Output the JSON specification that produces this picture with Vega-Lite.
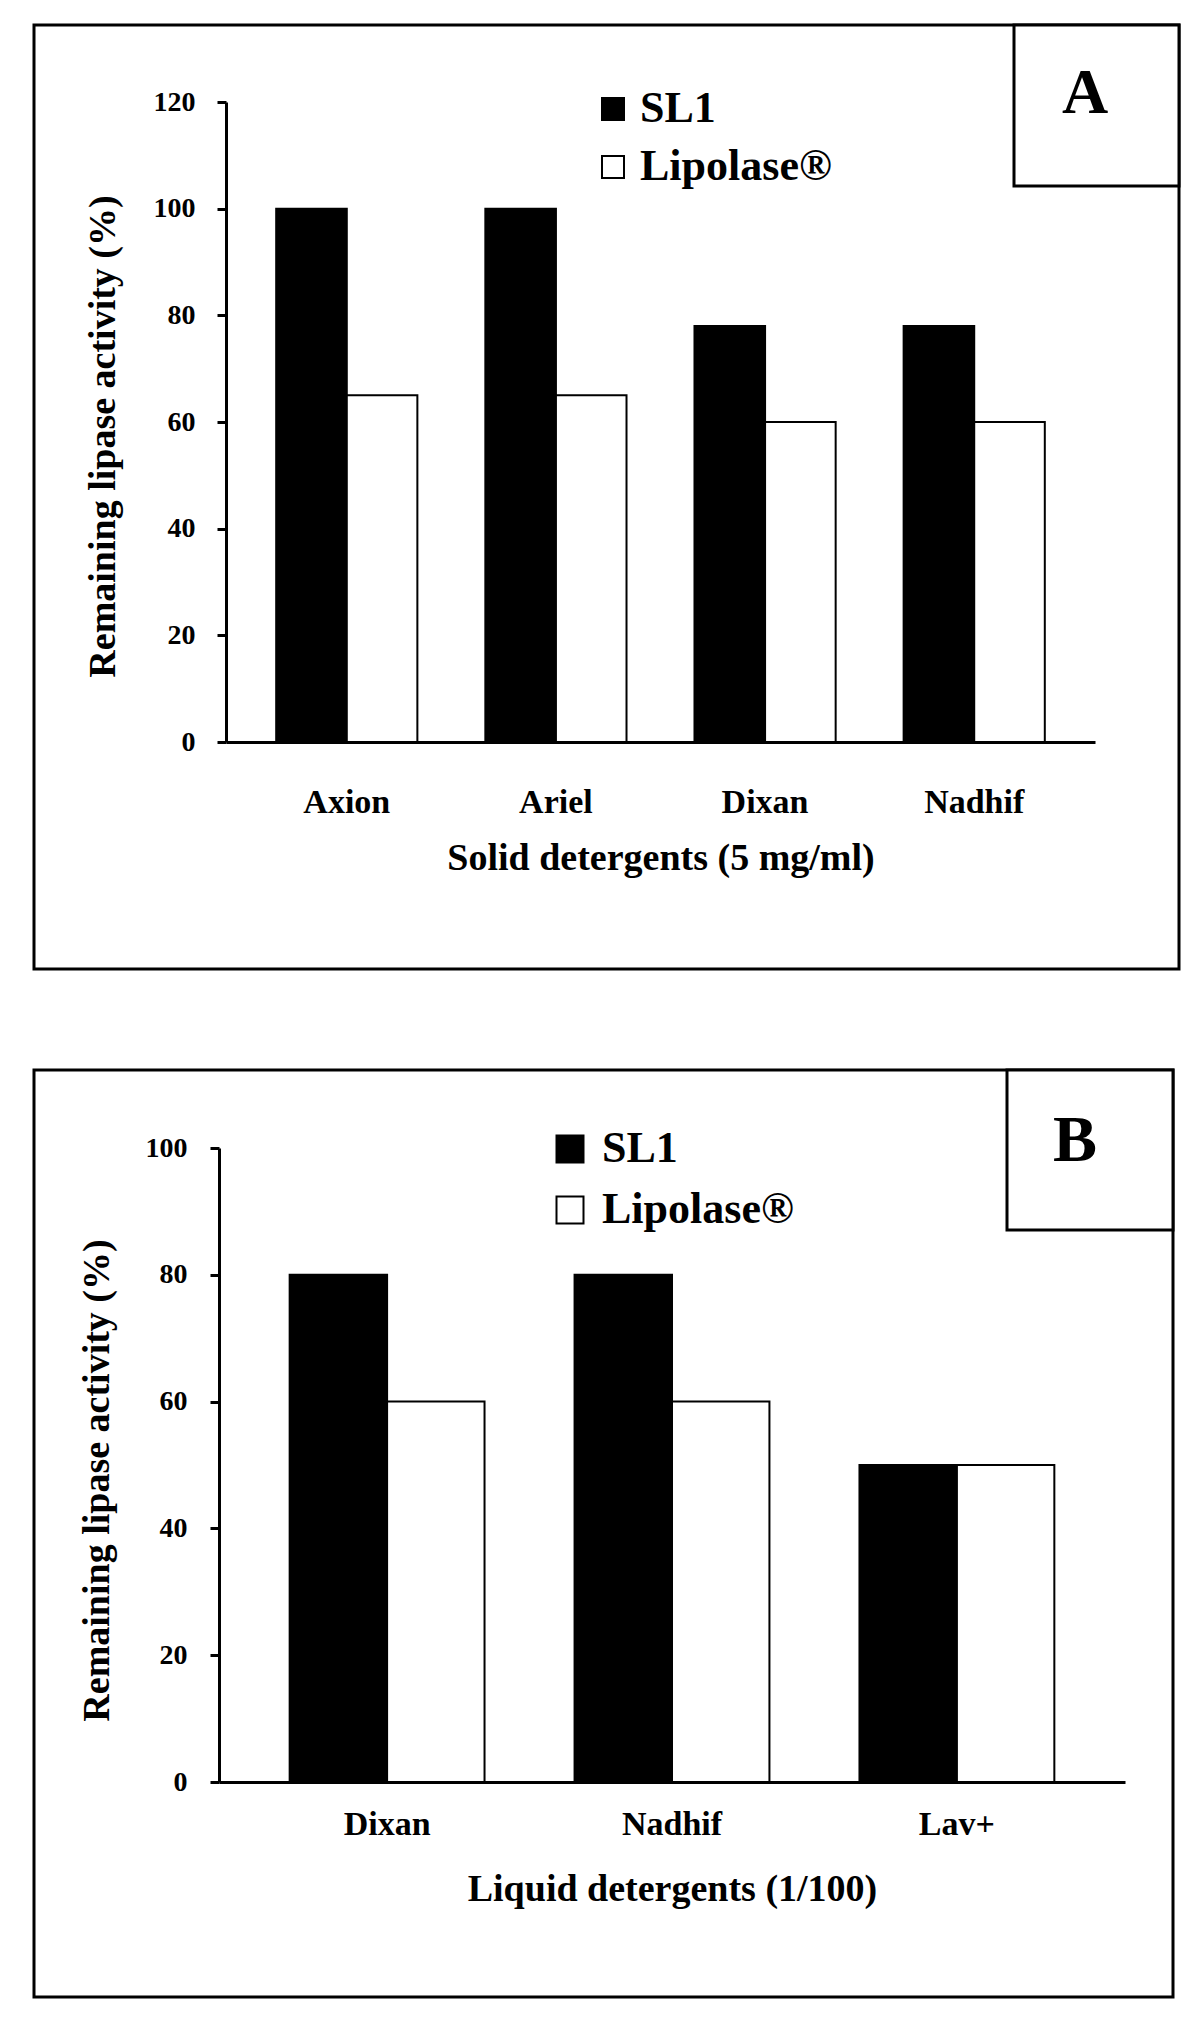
{
  "$schema": "https://vega.github.io/schema/vega-lite/v6.json",
  "background": "white",
  "padding": {"left": 32, "top": 22, "right": 0, "bottom": 0},
  "spacing": 96,
  "resolve": {
    "scale": {"fill": "independent", "xOffset": "independent", "x": "independent", "y": "independent"},
    "legend": {"fill": "independent"}
  },
  "config": {
    "font": "Liberation Serif",
    "view": {"stroke": "black", "strokeWidth": 3},
    "axis": {
      "grid": false,
      "domainColor": "black",
      "domainWidth": 3,
      "tickColor": "black",
      "tickWidth": 3,
      "labelColor": "black",
      "titleColor": "black",
      "labelFont": "Liberation Serif",
      "titleFont": "Liberation Serif",
      "labelFontWeight": "bold",
      "titleFontWeight": "bold"
    },
    "legend": {
      "labelFont": "Liberation Serif",
      "labelFontWeight": "bold",
      "labelColor": "black",
      "labelLimit": 0,
      "symbolType": "square",
      "symbolStrokeColor": "black",
      "symbolStrokeWidth": 2,
      "padding": 0
    }
  },
  "vconcat": [
    {
      "width": 1145,
      "height": 944,
      "layer": [
        {
          "data": {
            "values": [
              {"detergent": "Axion", "enzyme": "SL1", "activity": 100},
              {"detergent": "Axion", "enzyme": "Lipolase®", "activity": 65},
              {"detergent": "Ariel", "enzyme": "SL1", "activity": 100},
              {"detergent": "Ariel", "enzyme": "Lipolase®", "activity": 65},
              {"detergent": "Dixan", "enzyme": "SL1", "activity": 78},
              {"detergent": "Dixan", "enzyme": "Lipolase®", "activity": 60},
              {"detergent": "Nadhif", "enzyme": "SL1", "activity": 78},
              {"detergent": "Nadhif", "enzyme": "Lipolase®", "activity": 60}
            ]
          },
          "mark": {"type": "bar", "stroke": "black", "strokeWidth": 2},
          "encoding": {
            "x": {
              "field": "detergent",
              "type": "nominal",
              "sort": ["Axion", "Ariel", "Dixan", "Nadhif"],
              "title": "Solid detergents (5 mg/ml)",
              "scale": {"range": [192, 1061], "paddingInner": 0.325, "paddingOuter": 0.24},
              "axis": {
                "orient": "bottom",
                "offset": -227,
                "ticks": false,
                "labelAngle": 0,
                "labelFontSize": 34,
                "labelPadding": 43,
                "titleFontSize": 38,
                "titlePadding": 20
              }
            },
            "xOffset": {"field": "enzyme", "type": "nominal", "sort": ["SL1", "Lipolase®"]},
            "y": {
              "field": "activity",
              "type": "quantitative",
              "title": "Remaining lipase activity (%)",
              "scale": {"domain": [0, 120], "range": [717, 77], "nice": false},
              "axis": {
                "orient": "left",
                "offset": -192,
                "values": [0, 20, 40, 60, 80, 100, 120],
                "tickSize": 9,
                "labelPadding": 22,
                "labelFontSize": 28,
                "titleFontSize": 38,
                "titleX": -123,
                "titleY": 411,
                "titleAngle": -90,
                "titleAlign": "center",
                "titleBaseline": "middle"
              }
            },
            "fill": {
              "field": "enzyme",
              "type": "nominal",
              "scale": {"domain": ["SL1", "Lipolase®"], "range": ["black", "white"]},
              "legend": {
                "orient": "none",
                "legendX": 557,
                "legendY": 62,
                "title": null,
                "symbolSize": 484,
                "labelFontSize": 44,
                "labelOffset": 5,
                "rowPadding": 14
              }
            }
          }
        },
        {
          "data": {"values": [{}]},
          "mark": {"type": "rect", "fill": "white", "stroke": "black", "strokeWidth": 3},
          "encoding": {"x": {"value": 980}, "x2": {"value": 1145}, "y": {"value": 0}, "y2": {"value": 161}}
        },
        {
          "data": {"values": [{}]},
          "mark": {"type": "text", "text": "A", "font": "Liberation Serif", "fontSize": 64, "fontWeight": "bold", "align": "center", "baseline": "alphabetic", "color": "black"},
          "encoding": {"x": {"value": 1051}, "y": {"value": 88}}
        }
      ]
    },
    {
      "width": 1139,
      "height": 927,
      "layer": [
        {
          "data": {
            "values": [
              {"detergent": "Dixan", "enzyme": "SL1", "activity": 80},
              {"detergent": "Dixan", "enzyme": "Lipolase®", "activity": 60},
              {"detergent": "Nadhif", "enzyme": "SL1", "activity": 80},
              {"detergent": "Nadhif", "enzyme": "Lipolase®", "activity": 60},
              {"detergent": "Lav+", "enzyme": "SL1", "activity": 50},
              {"detergent": "Lav+", "enzyme": "Lipolase®", "activity": 50}
            ]
          },
          "mark": {"type": "bar", "stroke": "black", "strokeWidth": 2},
          "encoding": {
            "x": {
              "field": "detergent",
              "type": "nominal",
              "sort": ["Dixan", "Nadhif", "Lav+"],
              "title": "Liquid detergents (1/100)",
              "scale": {"range": [185, 1091], "paddingInner": 0.316, "paddingOuter": 0.248},
              "axis": {
                "orient": "bottom",
                "offset": -215,
                "ticks": false,
                "labelAngle": 0,
                "labelFontSize": 34,
                "labelPadding": 25,
                "titleFontSize": 38,
                "titlePadding": 29
              }
            },
            "xOffset": {"field": "enzyme", "type": "nominal", "sort": ["SL1", "Lipolase®"]},
            "y": {
              "field": "activity",
              "type": "quantitative",
              "title": "Remaining lipase activity (%)",
              "scale": {"domain": [0, 100], "range": [712, 78], "nice": false},
              "axis": {
                "orient": "left",
                "offset": -185,
                "values": [0, 20, 40, 60, 80, 100],
                "tickSize": 9,
                "labelPadding": 23,
                "labelFontSize": 28,
                "titleFontSize": 38,
                "titleX": -122,
                "titleY": 410,
                "titleAngle": -90,
                "titleAlign": "center",
                "titleBaseline": "middle"
              }
            },
            "fill": {
              "field": "enzyme",
              "type": "nominal",
              "scale": {"domain": ["SL1", "Lipolase®"], "range": ["black", "white"]},
              "legend": {
                "orient": "none",
                "legendX": 514,
                "legendY": 57,
                "title": null,
                "symbolSize": 729,
                "labelFontSize": 44,
                "labelOffset": 10,
                "rowPadding": 17
              }
            }
          }
        },
        {
          "data": {"values": [{}]},
          "mark": {"type": "rect", "fill": "white", "stroke": "black", "strokeWidth": 3},
          "encoding": {"x": {"value": 973}, "x2": {"value": 1139}, "y": {"value": 0}, "y2": {"value": 160}}
        },
        {
          "data": {"values": [{}]},
          "mark": {"type": "text", "text": "B", "font": "Liberation Serif", "fontSize": 66, "fontWeight": "bold", "align": "center", "baseline": "alphabetic", "color": "black"},
          "encoding": {"x": {"value": 1041}, "y": {"value": 91}}
        }
      ]
    }
  ]
}
